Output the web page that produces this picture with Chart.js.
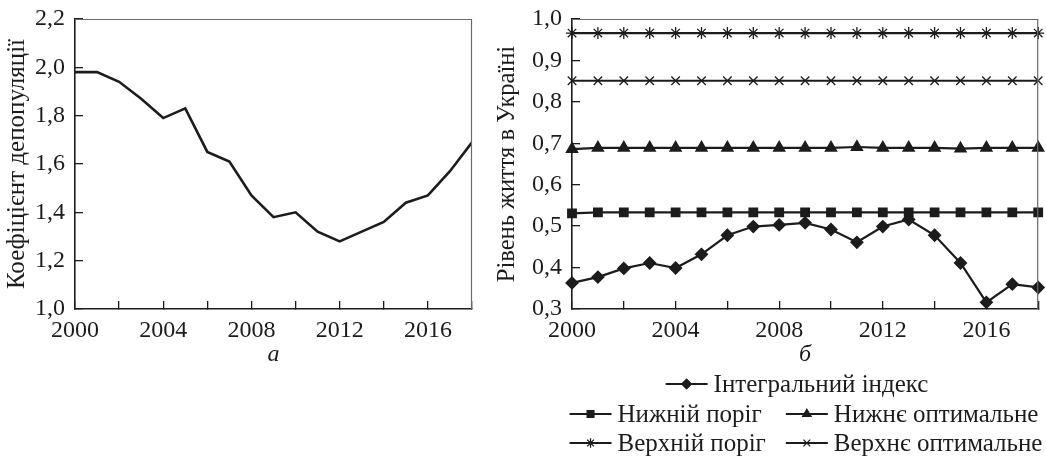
<!DOCTYPE html>
<html lang="uk">
<head>
<meta charset="utf-8">
<script src="https://cdn.jsdelivr.net/npm/chart.js@4.4.1/dist/chart.umd.min.js"></script>
<style>
  html, body { margin: 0; padding: 0; background: #fff; }
  #wrap { position: relative; width: 1046px; height: 456px; }
  #leftBox { position: absolute; left: 0; top: 0; width: 480px; height: 456px; }
  #rightBox { position: absolute; left: 480px; top: 0; width: 566px; height: 456px; }
</style>
</head>
<body>
<div id="wrap">
  <div id="leftBox"><canvas id="depopChart"></canvas></div>
  <div id="rightBox"><canvas id="livingChart"></canvas></div>
</div>
<script>
// data
const years = [2000, 2001, 2002, 2003, 2004, 2005, 2006, 2007, 2008, 2009,
               2010, 2011, 2012, 2013, 2014, 2015, 2016, 2017, 2018];
const yearLabels = [2000, 2004, 2008, 2012, 2016];

const depopulation = [1.98, 1.98, 1.94, 1.87, 1.79, 1.83, 1.65, 1.61, 1.47, 1.38,
                      1.40, 1.32, 1.28, 1.32, 1.36, 1.44, 1.47, 1.57, 1.69];

const integralIndex  = [0.363, 0.377, 0.398, 0.411, 0.399, 0.432, 0.478, 0.499, 0.503, 0.508,
                        0.492, 0.461, 0.499, 0.516, 0.478, 0.411, 0.316, 0.360, 0.352];
const lowerThreshold = [0.531, 0.533, 0.533, 0.533, 0.533, 0.533, 0.533, 0.533, 0.533, 0.533,
                        0.533, 0.533, 0.533, 0.533, 0.533, 0.533, 0.533, 0.533, 0.533];
const lowerOptimal   = [0.686, 0.689, 0.689, 0.689, 0.689, 0.689, 0.689, 0.689, 0.689, 0.689,
                        0.689, 0.691, 0.689, 0.689, 0.689, 0.687, 0.689, 0.689, 0.689];
const upperThreshold = [0.966, 0.966, 0.966, 0.966, 0.966, 0.966, 0.966, 0.966, 0.966, 0.966,
                        0.966, 0.966, 0.966, 0.966, 0.966, 0.966, 0.966, 0.966, 0.966];
const upperOptimal   = [0.851, 0.851, 0.851, 0.851, 0.851, 0.851, 0.851, 0.851, 0.851, 0.851,
                        0.851, 0.851, 0.851, 0.851, 0.851, 0.851, 0.851, 0.851, 0.851];

const FONT = '"Liberation Serif", "Times New Roman", serif';
const INK = '#1c1c1c';

function series(values) {
  return values.map((v, i) => ({ x: years[i], y: v }));
}

function comma(v) {
  return Number(v).toFixed(1).replace('.', ',');
}

// thin frame on top and right of the plot
const frameBox = {
  id: 'frameBox',
  afterDraw(chart) {
    const { ctx, chartArea: a } = chart;
    ctx.save();
    ctx.strokeStyle = '#6a6a6a';
    ctx.lineWidth = 1.2;
    ctx.beginPath();
    ctx.moveTo(a.left, a.top + 0.5);
    ctx.lineTo(a.right - 0.5, a.top + 0.5);
    ctx.lineTo(a.right - 0.5, a.bottom);
    ctx.stroke();
    ctx.restore();
  }
};

function xScale(letter) {
  return {
    type: 'linear',
    min: 2000,
    max: 2018,
    ticks: {
      stepSize: 2,
      autoSkip: false,
      maxRotation: 0,
      padding: 15,
      color: INK,
      font: { family: FONT, size: 24 },
      callback: v => yearLabels.includes(v) ? String(v) : ''
    },
    grid: { drawOnChartArea: false, tickLength: -8, color: INK, lineWidth: 1.3 },
    border: { color: INK, width: 1.6 },
    title: {
      display: true,
      text: letter,
      color: INK,
      font: { family: FONT, size: 24, style: 'italic' },
      padding: { top: 0, bottom: 87 }
    },
    afterFit(scale) {
      scale.height = 147;
      scale.paddingLeft = 0;
      scale.paddingRight = 0;
    }
  };
}

function yScale(min, max, step, title, width, titlePad, titleSize) {
  return {
    min: min,
    max: max,
    ticks: {
      stepSize: step,
      padding: 18,
      color: INK,
      font: { family: FONT, size: 24 },
      callback: v => comma(v)
    },
    grid: { drawOnChartArea: false, tickLength: -8, color: INK, lineWidth: 1.3 },
    border: { color: INK, width: 1.6 },
    title: {
      display: true,
      text: title,
      color: INK,
      font: { family: FONT, size: titleSize },
      padding: { top: titlePad, bottom: 0 }
    },
    afterFit(scale) {
      scale.width = width;
      scale.paddingTop = 0;
      scale.paddingBottom = 0;
    }
  };
}

new Chart(document.getElementById('depopChart'), {
  type: 'line',
  data: {
    datasets: [{
      label: 'Коефіцієнт депопуляції',
      data: series(depopulation),
      borderColor: INK,
      borderWidth: 2.6,
      pointRadius: 0,
      tension: 0
    }]
  },
  options: {
    responsive: true,
    maintainAspectRatio: false,
    animation: false,
    layout: { padding: { top: 19, right: 8, left: 0, bottom: 0 } },
    plugins: { legend: { display: false }, tooltip: { enabled: false } },
    scales: {
      x: xScale('а'),
      y: yScale(1.0, 2.2, 0.2, 'Коефіцієнт депопуляції', 75, 2, 25)
    }
  },
  plugins: [frameBox]
});

// legend under the right panel: rows of dataset indexes
const legendRows = [[0], [1, 2], [3, 4]];
const legendRowY = [384, 414, 443];

function drawMarker(ctx, style, r, x, y) {
  if (Chart.helpers && Chart.helpers.drawPoint) {
    Chart.helpers.drawPoint(ctx, { pointStyle: style, radius: r, rotation: 0, borderWidth: 1.3 }, x, y);
  }
}

const bottomLegend = {
  id: 'bottomLegend',
  afterDraw(chart) {
    const ctx = chart.ctx;
    const sets = chart.data.datasets;
    const lineLen = 42, gap = 6, colGap = 20;
    ctx.save();
    ctx.font = '25px ' + FONT;
    ctx.textBaseline = 'middle';
    ctx.fillStyle = INK;
    ctx.strokeStyle = INK;
    const itemW = i => lineLen + gap + ctx.measureText(sets[i].label).width;
    const col1 = Math.max(itemW(1), itemW(3));
    const col2 = Math.max(itemW(2), itemW(4));
    const startTwo = 326 - (col1 + colGap + col2) / 2;
    legendRows.forEach((row, r) => {
      const y = legendRowY[r];
      row.forEach((idx, k) => {
        let x0;
        if (row.length === 1) x0 = 317 - itemW(idx) / 2;
        else x0 = k === 0 ? startTwo : startTwo + col1 + colGap;
        ctx.lineWidth = 2.2;
        ctx.beginPath();
        ctx.moveTo(x0, y);
        ctx.lineTo(x0 + lineLen, y);
        ctx.stroke();
        ctx.fillStyle = INK;
        ctx.lineWidth = 1.3;
        drawMarker(ctx, sets[idx].pointStyle, 4.8, x0 + lineLen / 2, y);
        ctx.fillStyle = INK;
        ctx.fillText(sets[idx].label, x0 + lineLen + gap, y + 1);
      });
    });
    ctx.restore();
  }
};

function lineSet(label, values, style, radius) {
  return {
    label: label,
    data: series(values),
    borderColor: INK,
    borderWidth: 2.2,
    pointStyle: style,
    pointRadius: radius,
    pointBackgroundColor: INK,
    pointBorderColor: INK,
    pointBorderWidth: 1.3,
    tension: 0,
    clip: false
  };
}

new Chart(document.getElementById('livingChart'), {
  type: 'line',
  data: {
    datasets: [
      lineSet('Інтегральний індекс', integralIndex, 'rectRot', 6),
      lineSet('Нижній поріг', lowerThreshold, 'rect', 6),
      lineSet('Нижнє оптимальне', lowerOptimal, 'triangle', 6.5),
      lineSet('Верхній поріг', upperThreshold, 'star', 6),
      lineSet('Верхнє оптимальне', upperOptimal, 'crossRot', 6)
    ]
  },
  options: {
    responsive: true,
    maintainAspectRatio: false,
    animation: false,
    layout: { padding: { top: 19, right: 6, left: 0, bottom: 0 } },
    plugins: { legend: { display: false }, tooltip: { enabled: false } },
    scales: {
      x: xScale('б'),
      y: yScale(0.3, 1.0, 0.1, 'Рівень життя в Україні', 92, 13, 24.5)
    }
  },
  plugins: [frameBox, bottomLegend]
});
</script>
</body>
</html>
